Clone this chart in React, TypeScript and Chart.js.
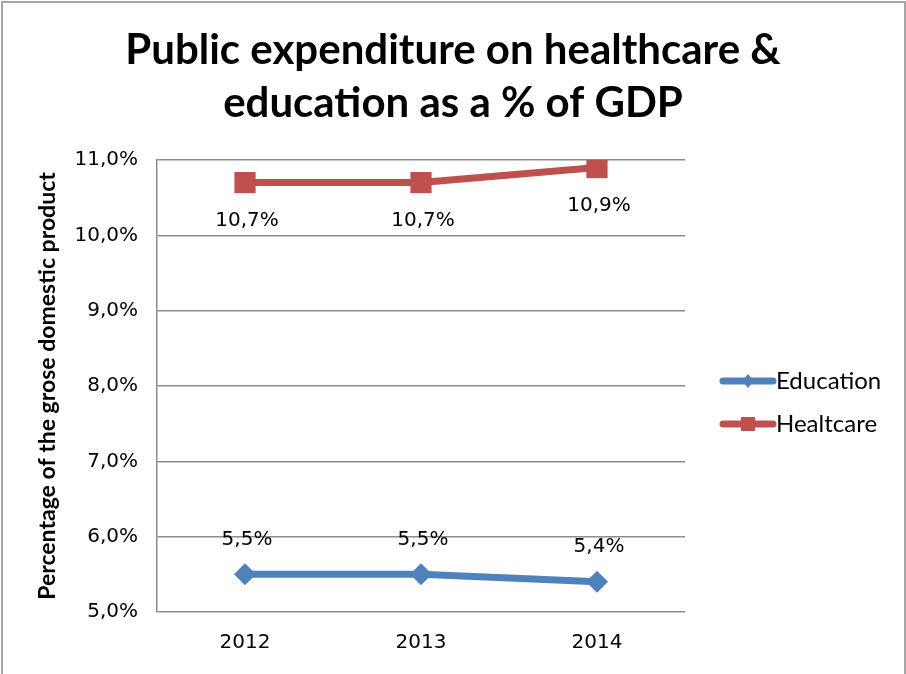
import React, { useEffect, useRef } from "react";
import { Chart, registerables } from "chart.js";

Chart.register(...registerables);

const titleLines = ["Public expenditure on healthcare &", "education as a % of GDP"];
const yAxisTitle = "Percentage of the grose domestic product";
const categories = ["2012", "2013", "2014"];
const educationValues = [5.5, 5.5, 5.4];
const healthcareValues = [10.7, 10.7, 10.9];
const seriesNames = ["Education", "Healtcare"];
const yMin = 5;
const yMax = 11;
const yStep = 1;

const BLUE = "#4F81BD";
const RED = "#C0504D";
const TICK_FONT = "'DejaVu Sans', sans-serif";
const LABEL_FONT = "Lato, 'Open Sans', sans-serif";

const fmt = (v: number) => v.toFixed(1).replace(".", ",") + "%";

const framePlugin = {
  id: "frame",
  beforeDraw(chart: any) {
    const { ctx, width, height } = chart;
    ctx.save();
    ctx.fillStyle = "#ffffff";
    ctx.fillRect(0, 0, width, height);
    ctx.strokeStyle = "#a6a6a6";
    ctx.lineWidth = 2;
    ctx.strokeRect(2, 2, width - 3, height + 4);
    ctx.restore();
  },
};

const dataLabelPlugin = {
  id: "valueLabels",
  afterDatasetsDraw(chart: any) {
    const { ctx } = chart;
    ctx.save();
    ctx.font = `20px ${TICK_FONT}`;
    ctx.fillStyle = "#000";
    ctx.textAlign = "center";
    ctx.textBaseline = "middle";
    chart.data.datasets.forEach((ds: any, di: number) => {
      const meta = chart.getDatasetMeta(di);
      const off = ds.labelOffset as number;
      meta.data.forEach((pt: any, i: number) => {
        const v = ds.data[i] as number;
        ctx.fillText(fmt(v), pt.x + 2, pt.y + off);
      });
    });
    ctx.restore();
  },
};

const legendPlugin = {
  id: "sideLegend",
  afterDraw(chart: any) {
    const { ctx, chartArea } = chart;
    const x0 = chartArea.right + 35;
    const y0 = 381;
    const gap = 43;
    ctx.save();
    chart.data.datasets.forEach((ds: any, i: number) => {
      const y = y0 + i * gap;
      ctx.strokeStyle = ds.borderColor;
      ctx.lineWidth = 7;
      ctx.lineCap = "round";
      ctx.beginPath();
      ctx.moveTo(x0 + 3, y);
      ctx.lineTo(x0 + 53, y);
      ctx.stroke();
      ctx.fillStyle = ds.borderColor;
      const cx = x0 + 28;
      ctx.beginPath();
      if (ds.pointStyle === "rectRot") {
        ctx.moveTo(cx, y - 7);
        ctx.lineTo(cx + 6, y);
        ctx.lineTo(cx, y + 7);
        ctx.lineTo(cx - 6, y);
        ctx.closePath();
      } else {
        ctx.rect(cx - 7, y - 7, 14, 14);
      }
      ctx.fill();
      ctx.fillStyle = "#000";
      ctx.font = `24px ${LABEL_FONT}`;
      ctx.textAlign = "left";
      ctx.textBaseline = "middle";
      ctx.fillText(ds.label, x0 + 56, y);
    });
    ctx.restore();
  },
};

export default function App() {
  const ref = useRef<HTMLCanvasElement | null>(null);
  useEffect(() => {
    if (!ref.current) return;
    const chart = new Chart(ref.current, {
      type: "line",
      data: {
        labels: categories,
        datasets: [
          {
            label: seriesNames[0],
            data: educationValues,
            borderColor: BLUE,
            backgroundColor: BLUE,
            borderWidth: 7,
            pointStyle: "rectRot",
            pointRadius: 11,
            pointBorderWidth: 0,
            pointBackgroundColor: BLUE,
            tension: 0,
            labelOffset: -35,
          } as any,
          {
            label: seriesNames[1],
            data: healthcareValues,
            borderColor: RED,
            backgroundColor: RED,
            borderWidth: 7,
            pointStyle: "rect",
            pointRadius: 15,
            pointBorderWidth: 0,
            pointBackgroundColor: RED,
            tension: 0,
            labelOffset: 38,
          } as any,
        ],
      },
      options: {
        responsive: false,
        animation: false,
        devicePixelRatio: 1,
        layout: { padding: { left: 0, right: 0, top: 0, bottom: 0 } },
        plugins: {
          legend: { display: false },
          tooltip: { enabled: false },
          title: {
            display: true,
            text: titleLines,
            color: "#000",
            font: { family: LABEL_FONT, size: 42, weight: "bold", lineHeight: 1.262 },
            padding: { top: 24, bottom: 30 },
          },
        },
        scales: {
          x: {
            offset: true,
            grid: { display: false, drawTicks: false },
            border: { display: false },
            ticks: {
              color: "#000",
              font: { family: TICK_FONT, size: 20 },
              padding: 19,
            },
            afterFit: (s: any) => {
              s.height = 62;
            },
          },
          y: {
            min: yMin,
            max: yMax,
            grid: { color: "#8c8c8c", lineWidth: 1.5, drawTicks: false },
            border: { display: true, color: "#8c8c8c", width: 1.5 },
            ticks: {
              stepSize: yStep,
              color: "#000",
              font: { family: TICK_FONT, size: 20 },
              padding: 19,
              callback: (v: any) => fmt(Number(v)),
            },
            title: {
              display: true,
              text: yAxisTitle,
              color: "#000",
              font: { family: LABEL_FONT, size: 23, weight: "bold", lineHeight: 1.2 },
              padding: { top: 34, bottom: 0 },
            },
            afterFit: (s: any) => {
              s.width = 157;
            },
          },
          side: {
            position: "right",
            display: true,
            grid: { display: false, drawTicks: false },
            border: { display: false },
            ticks: { display: false },
            afterFit: (s: any) => {
              s.width = 221;
            },
          },
        },
      },
      plugins: [framePlugin, dataLabelPlugin, legendPlugin],
    });
    return () => chart.destroy();
  }, []);
  return (
    <div style={{ position: "absolute", left: 0, top: 0, width: 906, height: 674 }}>
      <canvas ref={ref} width={906} height={674} style={{ display: "block" }} />
    </div>
  );
}
